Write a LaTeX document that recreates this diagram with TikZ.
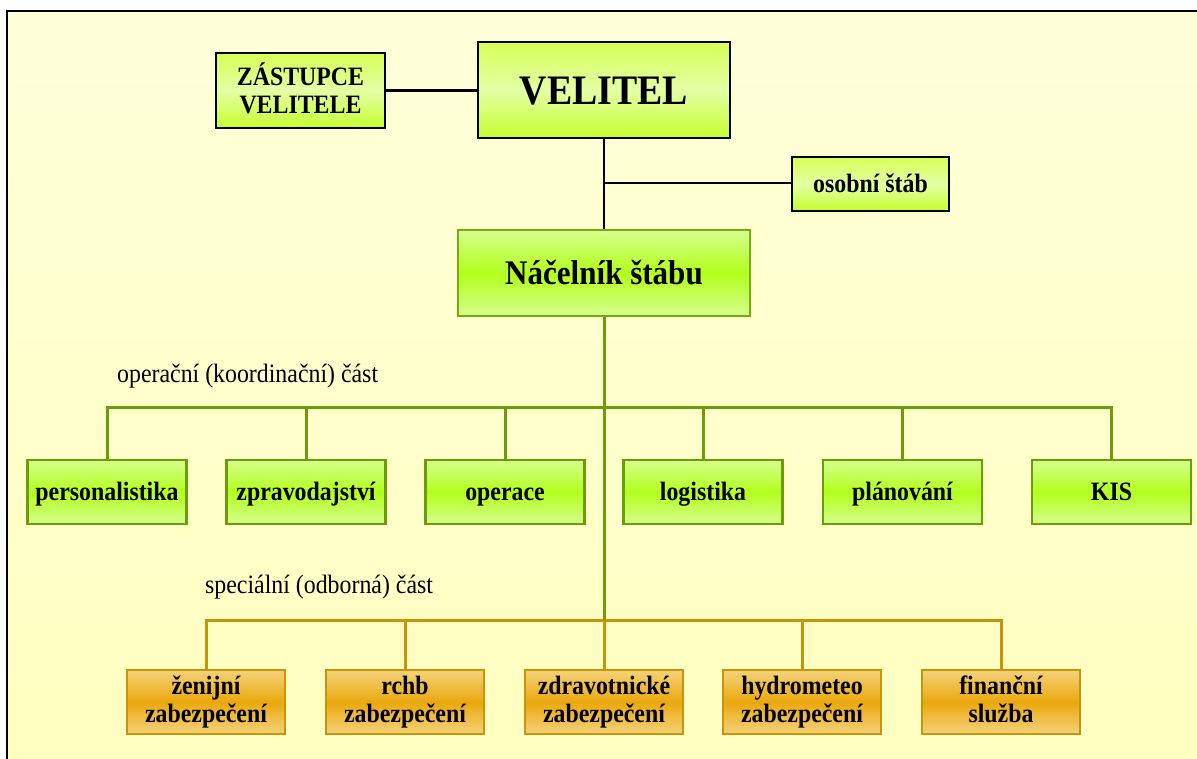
\documentclass[tikz,border=0pt]{standalone}
\usepackage{fontspec}
\setmainfont[FakeStretch=0.9]{Liberation Serif}
\definecolor{bgA}{HTML}{FFFFDA}
\definecolor{bgB}{HTML}{FFFFC0}
\definecolor{limeT}{HTML}{D6FF55}
\definecolor{limeM}{HTML}{E4FFA6}
\definecolor{limeB}{HTML}{C6FF2E}
\definecolor{grnL}{HTML}{D6FF8E}
\definecolor{grnM}{HTML}{B2FF1C}
\definecolor{grnD}{HTML}{6C9C0A}
\definecolor{orL}{HTML}{F4D27A}
\definecolor{orM}{HTML}{EBA80E}
\definecolor{orD}{HTML}{C8940A}
\newcommand{\boxstrut}[2]{\rule[-#2]{0pt}{\dimexpr#1+#2\relax}}
\tikzset{
  vstrut/.style 2 args={execute at begin node={\boxstrut{#1}{#2}}, execute at end node={\boxstrut{#1}{#2}}},
  boxbase/.style={inner sep=0pt, align=center, font=\bfseries\fontsize{26.5}{28}\selectfont, line width=2.8pt,
    vstrut={22pt}{5pt}},
  topbox/.style={boxbase, draw=black, top color=limeT, bottom color=limeB, middle color=limeM},
  grnbox/.style={boxbase, draw=grnD, top color=grnL, bottom color=grnL, middle color=grnM, minimum width=159pt, minimum height=64pt},
  orbox/.style={boxbase, draw=orD, top color=orL, bottom color=orL, middle color=orM, minimum width=158pt, minimum height=64pt},
  blkline/.style={draw=black, line width=2.8pt},
  grnline/.style={draw=grnD, line width=3pt},
  orline/.style={draw=orD, line width=3pt},
  lbl/.style={font=\fontsize{26.5}{28}\selectfont, inner sep=0pt, anchor=base west}
}
\begin{document}
\begin{tikzpicture}[x=1pt,y=-1pt]
\useasboundingbox (0,0) rectangle (1197,758);
\fill[white] (0,0) rectangle (1197,758);
\shade[top color=bgA, bottom color=bgB] (7,11) rectangle (1197,758);
\draw[line width=2.5pt] (7,760) -- (7,11) -- (1199,11);

% top level
\node[topbox, minimum width=169pt, minimum height=75pt] (zast) at (300.5,90.5) {ZÁSTUPCE\\VELITELE};
\node[topbox, minimum width=252pt, minimum height=96pt, font=\bfseries\fontsize{42}{46}\selectfont, vstrut={40pt}{12pt}] (vel) at (604,90) {VELITEL};
\node[topbox, minimum width=157pt, minimum height=54pt] (os) at (870.5,184) {osobní štáb};
\node[grnbox, draw=grnD!85!grnM, minimum width=292pt, minimum height=86pt, font=\bfseries\fontsize{34.5}{38}\selectfont, vstrut={32pt}{10pt}] (nac) at (604,273) {Náčelník štábu};

\coordinate (j1) at (604,183);
\draw[blkline] (zast.east) -- (zast.east -| vel.west);
\draw[blkline] (vel.south) -- (nac.north);
\draw[blkline] (j1) -- (j1 -| os.west);

% operational part
\node[lbl] (oplbl) at (117,382) {operační (koordinační) část};
\node[grnbox] (g1) at (107,492) {personalistika};
\node[grnbox] (g2) at (306,492) {zpravodajství};
\node[grnbox] (g3) at (505,492) {operace};
\node[grnbox] (g4) at (703,492) {logistika};
\node[grnbox] (g5) at (902.5,492) {plánování};
\node[grnbox] (g6) at (1111.5,492) {KIS};

\coordinate (gbus) at (604,407);
\coordinate (obus) at (604,620);

% special part
\node[lbl] (splbl) at (205,593) {speciální (odborná) část};
\node[orbox] (o1) at (206,702) {ženijní\\zabezpečení};
\node[orbox] (o2) at (405,702) {rchb\\zabezpečení};
\node[orbox] (o3) at (604,702) {zdravotnické\\zabezpečení};
\node[orbox] (o4) at (802,702) {hydrometeo\\zabezpečení};
\node[orbox] (o5) at (1001,702) {finanční\\služba};

% orange connectors
\draw[orline] (o1.north) |- (obus) -| (o5.north);
\foreach \n in {o2,o3,o4} \draw[orline] (\n.north) -- (\n.north |- obus);

% green connectors
\draw[grnline] (g1.north) |- (gbus) -| (g6.north);
\foreach \n in {g2,g3,g4,g5} \draw[grnline] (\n.north) -- (\n.north |- gbus);
\draw[grnline] (nac.south) -- (obus);
\end{tikzpicture}
\end{document}
